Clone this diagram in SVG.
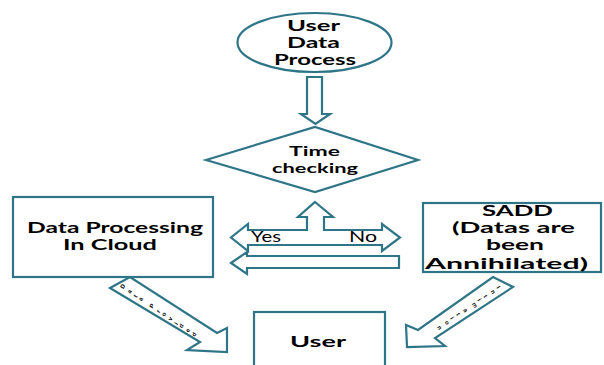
<svg xmlns="http://www.w3.org/2000/svg" width="604" height="365" viewBox="0 0 604 365">
<style>
.sh{fill:#fff;stroke:#2F7588;stroke-width:2.2;stroke-linejoin:miter}
.lb{font-family:Lato,"Liberation Sans",sans-serif;font-weight:700;font-size:15px;fill:#000;text-anchor:middle}
.sm{font-size:14px}
.yn{font-family:Lato,"Liberation Sans",sans-serif;font-weight:400;font-size:15px;fill:#000}
.tiny{font-family:"Liberation Sans",sans-serif;font-weight:700;font-size:6px;fill:#000}
</style>
<rect width="604" height="365" fill="#fff"/>
<g id="connectors">
  <polygon class="sh" points="307,77 322,77 322,114 330,114 315.5,124 301,114 307,114"/>
  <polygon class="sh" points="315,202 333,217 324,217 324,230 382,230 382,224 400,237.5 382,251 382,245 248,245 248,251 231,237.5 248,224 248,230 307,230 307,217 298,217"/>
  <polygon class="sh" points="231,263 247,252 247,256 399,256 399,268 247,268 247,274"/>
  <polygon class="sh" points="110,288 130,277 217,333 227,328 227,352 187,350 200,342"/>
  <polygon class="sh" points="493,277 513,287 435,338 445,346 407,347 406,325 418,330"/>
  <text class="yn" x="251" y="242" textLength="30" lengthAdjust="spacingAndGlyphs">Yes</text>
  <text class="yn" x="349" y="242" textLength="28" lengthAdjust="spacingAndGlyphs">No</text>
  <text class="tiny" transform="translate(124,288) rotate(33.7)" rotate="-90" dy="1.5" letter-spacing="4.1">Data Provided</text>
  <text class="tiny" transform="translate(497,289) rotate(146.3)" rotate="-90" dy="1.5" letter-spacing="5.1">Intimation</text>
</g>
<g id="user-data-process">
  <ellipse class="sh" cx="314.5" cy="42.5" rx="77" ry="29.5"/>
  <text class="lb" x="313.5" y="31" textLength="53" lengthAdjust="spacingAndGlyphs">User</text>
  <text class="lb" x="313.5" y="48" textLength="53" lengthAdjust="spacingAndGlyphs">Data</text>
  <text class="lb" x="315" y="65" textLength="82" lengthAdjust="spacingAndGlyphs">Process</text>
</g>
<g id="time-checking">
  <polygon class="sh" points="206,160 315,127 418,160 315,192"/>
  <text class="lb sm" x="314.5" y="156" textLength="51" lengthAdjust="spacingAndGlyphs">Time</text>
  <text class="lb sm" x="315" y="173" textLength="86" lengthAdjust="spacingAndGlyphs">checking</text>
</g>
<g id="data-processing">
  <rect class="sh" x="13" y="197" width="200" height="80"/>
  <text class="lb" x="115" y="233" textLength="176" lengthAdjust="spacingAndGlyphs">Data Processing</text>
  <text class="lb" x="110" y="250" textLength="94" lengthAdjust="spacingAndGlyphs">In Cloud</text>
</g>
<g id="sadd">
  <rect class="sh" x="423" y="203" width="178" height="69"/>
  <text class="lb" x="517.5" y="216" textLength="71" lengthAdjust="spacingAndGlyphs">SADD</text>
  <text class="lb" x="513.5" y="233" textLength="123" lengthAdjust="spacingAndGlyphs">(Datas are</text>
  <text class="lb" x="515" y="250" textLength="58" lengthAdjust="spacingAndGlyphs">been</text>
  <text class="lb" x="506.5" y="269" textLength="163" lengthAdjust="spacingAndGlyphs">Annihilated)</text>
</g>
<g id="user">
  <rect class="sh" x="254" y="312" width="131" height="60"/>
  <text class="lb" x="318" y="347" textLength="56" lengthAdjust="spacingAndGlyphs">User</text>
</g>
</svg>
